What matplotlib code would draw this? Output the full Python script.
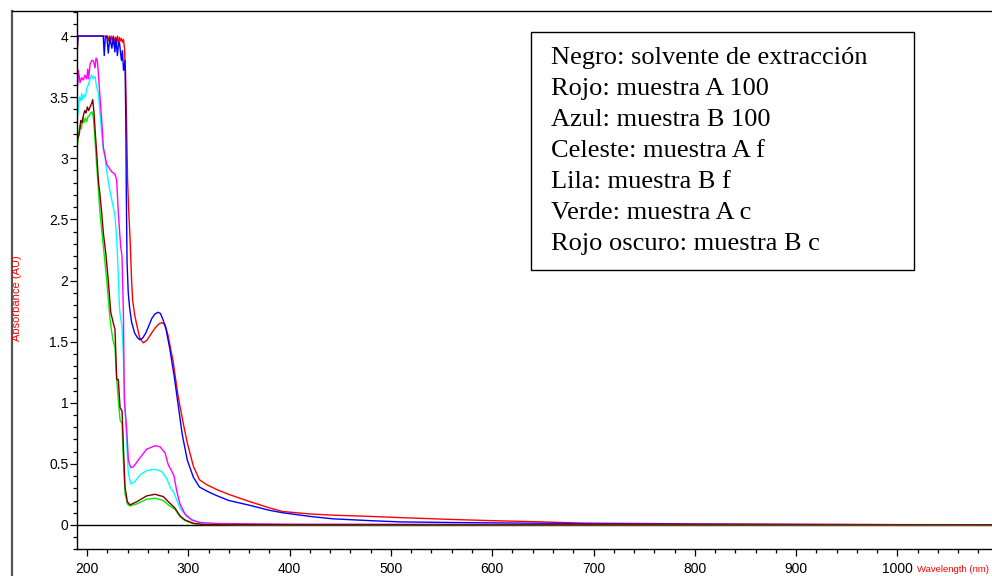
import matplotlib
matplotlib.use("Agg")
import matplotlib.pyplot as plt
from matplotlib import font_manager
from matplotlib.lines import Line2D
from matplotlib.patches import Rectangle
from matplotlib.ticker import MultipleLocator, FixedLocator, FixedFormatter

# ---------------- data: absorbance spectra (wavelength in nm, absorbance in AU) ----------------
solvente_nm = [190, 1100]
solvente_abs = [0.0, 0.0]

a100_nm = [190, 191, 220, 221, 222, 223, 224, 225, 226, 227, 228, 229, 230, 231, 232, 233,
           234, 235, 236, 237, 238, 239, 240, 241, 242.5, 244, 245, 247, 249, 252, 255.5,
           259, 263, 267, 271, 274, 277, 280, 283, 285, 287, 290, 295, 299, 305, 311, 318,
           328, 340, 361, 380, 393, 420, 443, 480, 509, 560, 600, 650, 687, 750, 800, 900,
           1000, 1100]
a100_abs = [3.78, 4.0, 4.0, 3.96, 4.0, 3.94, 4.0, 3.97, 4.0, 3.93, 3.99, 3.95, 4.0, 3.93,
            3.99, 3.96, 3.98, 3.95, 3.97, 3.9, 3.7, 3.3, 2.83, 2.6, 2.34, 2.0, 1.84, 1.72,
            1.64, 1.53, 1.49, 1.51, 1.56, 1.61, 1.645, 1.655, 1.64, 1.55, 1.42, 1.34, 1.22,
            1.05, 0.83, 0.67, 0.48, 0.37, 0.33, 0.29, 0.25, 0.19, 0.14, 0.11, 0.09, 0.08,
            0.07, 0.06, 0.045, 0.035, 0.025, 0.015, 0.012, 0.008, 0.005, 0.003, 0.002]

b100_nm = [190, 191, 216, 217, 218, 219.5, 221, 222.5, 224.5, 226, 227.5, 228.5, 230, 231,
           232, 233, 234, 235, 236, 237.5, 238.3, 238.8, 239.5, 240.7, 242, 244, 247, 250,
           252.3, 255, 258, 261, 264, 267, 270, 272.5, 275, 278, 282, 284, 286, 290, 294,
           299, 305, 311, 320, 328, 340, 361, 380, 393, 420, 443, 480, 509, 560, 600, 700,
           800, 900, 1000, 1100]
b100_abs = [3.83, 4.0, 4.0, 3.84, 3.99, 4.0, 3.86, 3.99, 3.9, 3.99, 3.87, 3.98, 3.84, 3.93,
            3.95, 3.87, 3.8, 3.88, 3.72, 3.8, 3.3, 2.7, 2.15, 1.9, 1.78, 1.66, 1.57, 1.53,
            1.515, 1.53, 1.57, 1.63, 1.69, 1.725, 1.74, 1.73, 1.68, 1.6, 1.43, 1.32, 1.22,
            0.98, 0.74, 0.53, 0.39, 0.31, 0.27, 0.24, 0.2, 0.16, 0.12, 0.10, 0.07, 0.05,
            0.035, 0.025, 0.02, 0.017, 0.01, 0.006, 0.004, 0.002, 0.001]

af_nm = [190.8, 191.4, 192.4, 193.7, 194.7, 195.7, 197, 198.3, 199.7, 201.3, 203, 204.6,
         206.2, 207.9, 209.5, 211.2, 212.8, 214.5, 216.1, 217.8, 219.4, 222, 224.4, 227.6,
         229.3, 230.9, 231.9, 233.3, 234.5, 235.8, 237.2, 238.5, 240.8, 243.4, 247.4, 252.3,
         258.9, 267.1, 273.7, 278.7, 282.6, 285.2, 287.9, 291.8, 298.4, 308.3, 318.2, 350,
         500, 700, 900, 1100]
af_abs = [3.35, 3.39, 3.5, 3.47, 3.53, 3.48, 3.52, 3.5, 3.57, 3.6, 3.65, 3.68, 3.65, 3.67,
          3.58, 3.53, 3.37, 3.2, 3.07, 3.01, 2.9, 2.76, 2.66, 2.53, 2.34, 2.04, 1.79, 1.68,
          1.63, 1.41, 1.02, 0.78, 0.42, 0.335, 0.355, 0.41, 0.445, 0.456, 0.437, 0.38, 0.30,
          0.273, 0.219, 0.137, 0.068, 0.027, 0.008, 0.003, 0.003, 0.002, 0.001, 0.001]

bf_nm = [190.8, 191.4, 193.1, 194.7, 196.4, 198, 199.7, 200.7, 201.6, 203, 204.6, 206.2,
         207.9, 208.9, 210.2, 211.2, 212.8, 214.5, 216.1, 217.8, 219.4, 224.4, 227.6, 229.3,
         230.9, 233.2, 234.5, 235.9, 236.8, 237.5, 239.2, 240.8, 243.1, 245.7, 252.3, 258.9,
         267.1, 272, 277, 280.3, 283.6, 285.9, 288.5, 291.8, 296.7, 303.3, 311.5, 328, 400,
         600, 800, 1100]
bf_abs = [3.6, 3.72, 3.62, 3.66, 3.64, 3.68, 3.65, 3.73, 3.65, 3.77, 3.8, 3.8, 3.74, 3.82,
          3.8, 3.69, 3.5, 3.31, 3.09, 3.02, 2.95, 2.89, 2.87, 2.82, 2.55, 2.28, 2.2, 1.74,
          1.02, 0.95, 0.78, 0.53, 0.47, 0.475, 0.55, 0.62, 0.648, 0.64, 0.59, 0.49, 0.44,
          0.40, 0.28, 0.17, 0.09, 0.04, 0.02, 0.012, 0.006, 0.005, 0.003, 0.001]

ac_nm = [190.4, 191.8, 193.1, 194.4, 195.8, 197, 198.3, 199.7, 201, 202.3, 203.6, 204.9,
         206.2, 207.9, 209.6, 210.5, 212.8, 216.1, 219.4, 222.7, 225.4, 227.6, 229.3, 230.9,
         232.6, 234.6, 235.9, 237.5, 239.8, 242.4, 249.1, 258.9, 267.1, 275.3, 280.3, 283.6,
         286.9, 291.8, 296.7, 304.9, 314.8, 400, 700, 1100]
ac_abs = [3.10, 3.21, 3.27, 3.24, 3.33, 3.29, 3.33, 3.30, 3.34, 3.35, 3.37, 3.38, 3.34, 3.15,
          2.93, 2.83, 2.55, 2.28, 2.01, 1.68, 1.52, 1.45, 1.19, 1.02, 0.86, 0.83, 0.53, 0.26,
          0.172, 0.156, 0.172, 0.21, 0.219, 0.2, 0.164, 0.145, 0.128, 0.068, 0.035, 0.01,
          0.003, 0.002, 0.001, 0.001]

bc_nm = [190.4, 192.4, 193.8, 195.1, 196.4, 197.7, 199, 200.3, 201.6, 203, 204.6, 205.6,
         206.9, 208.2, 209.6, 211.2, 212.8, 214.5, 216.1, 218.8, 221, 223.4, 226, 227.6,
         229.3, 230.9, 232.6, 234.6, 235.9, 237.5, 239.8, 242.4, 249.1, 258.9, 267.1, 275.3,
         280.3, 283.6, 286.9, 291.8, 296.7, 304.9, 314.8, 400, 700, 1100]
bc_abs = [3.15, 3.20, 3.31, 3.29, 3.35, 3.39, 3.37, 3.42, 3.39, 3.42, 3.45, 3.48, 3.37, 3.20,
          3.04, 2.82, 2.7, 2.55, 2.39, 2.2, 2.0, 1.74, 1.65, 1.6, 1.19, 1.19, 0.96, 0.93,
          0.64, 0.31, 0.19, 0.164, 0.19, 0.238, 0.251, 0.232, 0.19, 0.164, 0.137, 0.074,
          0.041, 0.014, 0.003, 0.002, 0.001, 0.001]

ytick_values = [0, 0.5, 1, 1.5, 2, 2.5, 3, 3.5, 4]
ytick_labels = ["0", "0.5", "1", "1.5", "2", "2.5", "3", "3.5", "4"]
xtick_values = [200, 300, 400, 500, 600, 700, 800, 900, 1000]

legend_lines = [
    "Negro: solvente de extracción",
    "Rojo: muestra A 100",
    "Azul: muestra B 100",
    "Celeste: muestra A f",
    "Lila: muestra B f",
    "Verde: muestra A c",
    "Rojo oscuro: muestra B c",
]

# ---------------- fonts ----------------
installed = {f.name for f in font_manager.fontManager.ttflist}
narrow = "Liberation Sans Narrow" if "Liberation Sans Narrow" in installed else "Liberation Sans"
serif = "Liberation Serif" if "Liberation Serif" in installed else "DejaVu Serif"

W, H = 992, 576
fig = plt.figure(figsize=(W / 100, H / 100), dpi=100)
fig.patch.set_facecolor("white")


def fx(px):
    return px / W


def fy(py):
    return 1 - py / H


# axes placed so that 190 nm sits on the left spine and 1100 nm runs past the right edge
x_lo, x_hi = 190, 1100
left_px, right_px = 76.9, 998.7
top_px, bot_px = 11.6, 549.4
ax = fig.add_axes([fx(left_px), fy(bot_px), (right_px - left_px) / W, (bot_px - top_px) / H])
ax.set_xlim(x_lo, x_hi)
ax.set_ylim(-0.2, 4.2)
ax.set_facecolor("white")

series = [
    (solvente_nm, solvente_abs, "#000000"),
    (a100_nm, a100_abs, "#ff0000"),
    (b100_nm, b100_abs, "#0000ff"),
    (af_nm, af_abs, "#00ffff"),
    (bf_nm, bf_abs, "#ff00ff"),
    (ac_nm, ac_abs, "#00ee00"),
    (bc_nm, bc_abs, "#800000"),
]
for nm, ab, col in series:
    ax.plot(nm, ab, color=col, lw=1.0, solid_joinstyle="round")

for side in ("top", "right"):
    ax.spines[side].set_visible(False)
for side in ("left", "bottom"):
    ax.spines[side].set_linewidth(1.0)
    ax.spines[side].set_color("black")

ax.yaxis.set_major_locator(FixedLocator(ytick_values))
ax.yaxis.set_major_formatter(FixedFormatter(ytick_labels))
ax.yaxis.set_minor_locator(MultipleLocator(0.1))
ax.xaxis.set_major_locator(FixedLocator(xtick_values))
ax.xaxis.set_minor_locator(MultipleLocator(20))

ax.tick_params(axis="both", which="major", direction="out", length=5, width=0.9, colors="black")
ax.tick_params(axis="both", which="minor", direction="out", length=3, width=0.9, colors="black")
ax.tick_params(axis="y", which="major", pad=1)
ax.tick_params(axis="x", which="major", pad=4)
for lab in ax.get_xticklabels() + ax.get_yticklabels():
    lab.set_fontfamily(narrow)
    lab.set_fontsize(10)

# axis titles
fig.text(fx(17), fy(298), "Absorbance (AU)", rotation=90, color="#ff0000", family=narrow,
         fontsize=8, ha="center", va="center")
fig.text(fx(989), fy(569), "Wavelength (nm)", color="#ff0000", family=narrow,
         fontsize=6.8, ha="right", va="center")

# outer frame
fig.add_artist(Line2D([fx(12), fx(12)], [fy(11), fy(576)], transform=fig.transFigure,
                      color="#555555", lw=1.6))
fig.add_artist(Line2D([fx(12), fx(992)], [fy(11), fy(11)], transform=fig.transFigure,
                      color="black", lw=1.0))

# description box
fig.add_artist(Rectangle((fx(531), fy(270)), fx(914) - fx(531), fy(32) - fy(270),
                         transform=fig.transFigure, facecolor="white", edgecolor="black",
                         lw=1.0))
for i, line in enumerate(legend_lines):
    fig.text(fx(551), fy(58 + 31 * i), line, family=serif, fontsize=19, color="black",
             ha="left", va="center")

fig.savefig("out.png", dpi=100, facecolor="white")
